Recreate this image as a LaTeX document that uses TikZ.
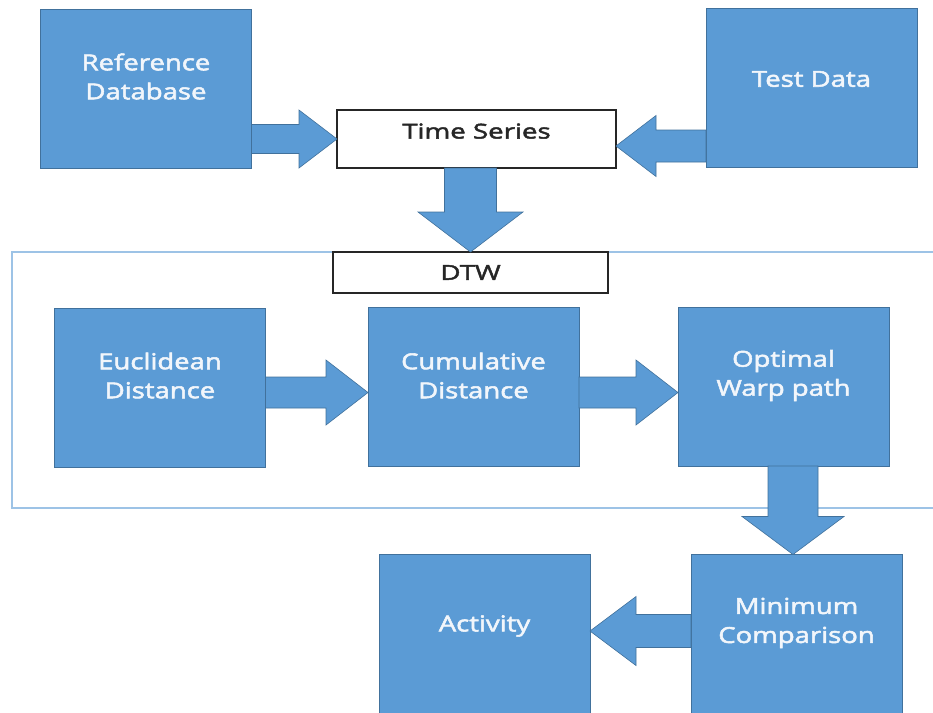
\documentclass[tikz,border=0pt]{standalone}
\usepackage{fontspec}
\setmainfont{Open Sans}
\newfontfamily\semifont{Open Sans}[FakeBold=2.4, FakeStretch=1.25]
\newfontfamily\wideseminfont{Open Sans}[FakeBold=2.2, FakeStretch=1.35]
\usetikzlibrary{calc}
\definecolor{boxblue}{HTML}{5B9BD5}
\definecolor{boxedge}{HTML}{41719C}
\definecolor{framec}{HTML}{9DC3E6}
\definecolor{lighttext}{HTML}{F2F6FB}
\tikzset{
  bluebox/.style={draw=boxedge, fill=boxblue, line width=0.8pt, inner sep=0pt, outer sep=0pt,
    minimum width=211pt, minimum height=159pt},
  whitebox/.style={draw=black!85, fill=white, line width=1.3pt, inner sep=0pt, outer sep=0pt,
    text=black!85, font=\fontsize{20.5}{24}\selectfont\wideseminfont},
  boxtext/.style={text=lighttext, align=center, font=\fontsize{22}{29}\selectfont\semifont},
  blockarrow/.style={fill=boxblue, draw=boxedge, line width=0.6pt, line join=miter},
}
\newcommand\blockarr[5]{% #1 from, #2 tip, #3 shaft half width, #4 head half width, #5 head length
  \path ($(#2)!#5!(#1)$) coordinate (bab);
  \filldraw[blockarrow] ($(#1)!#3!90:(#2)$) -- ($(bab)!#3!90:(#2)$) -- ($(bab)!#4!90:(#2)$)
    -- (#2) -- ($(bab)!#4!-90:(#2)$) -- ($(bab)!#3!-90:(#2)$) -- ($(#1)!#3!-90:(#2)$) -- cycle;
}
\begin{document}
\begin{tikzpicture}[x=1pt, y=-1pt]
  \clip (0,0) rectangle (933,712);
  % DTW frame (open on the right, cut by the page edge)
  \draw[framec, line width=1.6pt] (945,252) -- (12,252) -- (12,508) -- (945,508);
  % boxes
  \node[bluebox, label={[boxtext, yshift=12pt]center:Reference\\Database}] (ref) at (146,88.5) {};
  \node[bluebox, label={[boxtext, yshift=9pt]center:Test Data}] (test) at (811.5,88) {};
  \node[whitebox, minimum width=279pt, minimum height=58pt] (ts) at (476.5,139) {\raisebox{16pt}{Time Series}};
  \node[whitebox, minimum width=275pt, minimum height=41pt] (dtw) at (470.5,272.5) {DTW};
  \node[bluebox, label={[boxtext, yshift=12pt]center:Euclidean\\Distance}] (euc) at (160,387.5) {};
  \node[bluebox, label={[boxtext, yshift=11pt]center:Cumulative\\Distance}] (cum) at (473.5,386.5) {};
  \node[bluebox, label={[boxtext, yshift=11pt]center:Optimal\\Warp path}] (opt) at (783.5,386.5) {};
  \node[bluebox, label={[boxtext, yshift=11pt]center:Minimum\\Comparison}] (minc) at (796.5,634) {};
  \node[bluebox, label={[boxtext, yshift=8pt]center:Activity}] (act) at (484.5,634) {};
  % block arrows
  \coordinate (a1s) at (ref.east |- ts.west);
  \coordinate (a1t) at (ts.west);
  \blockarr{a1s}{a1t}{14.5pt}{29pt}{38pt}
  \coordinate (a2t) at ([yshift=-7pt]ts.east);
  \coordinate (a2s) at (a2t -| test.west);
  \blockarr{a2s}{a2t}{16pt}{30.5pt}{40pt}
  \coordinate (a3t) at (dtw.north);
  \coordinate (a3s) at (a3t |- ts.south);
  \blockarr{a3s}{a3t}{26pt}{52.5pt}{40pt}
  \coordinate (a4s) at ([yshift=-5pt]euc.east);
  \coordinate (a4t) at (a4s -| cum.west);
  \blockarr{a4s}{a4t}{15.5pt}{32.5pt}{42pt}
  \coordinate (a5s) at (a4s -| cum.east);
  \coordinate (a5t) at (a4s -| opt.west);
  \blockarr{a5s}{a5t}{15.5pt}{32.5pt}{42pt}
  \coordinate (a6s) at ([xshift=9.5pt]opt.south);
  \coordinate (a6t) at (a6s |- minc.north);
  \blockarr{a6s}{a6t}{25pt}{51pt}{38pt}
  \coordinate (a7s) at ([yshift=3pt]minc.west);
  \coordinate (a7t) at (a7s -| act.east);
  \blockarr{a7s}{a7t}{16.5pt}{34.5pt}{46pt}
\end{tikzpicture}
\end{document}
